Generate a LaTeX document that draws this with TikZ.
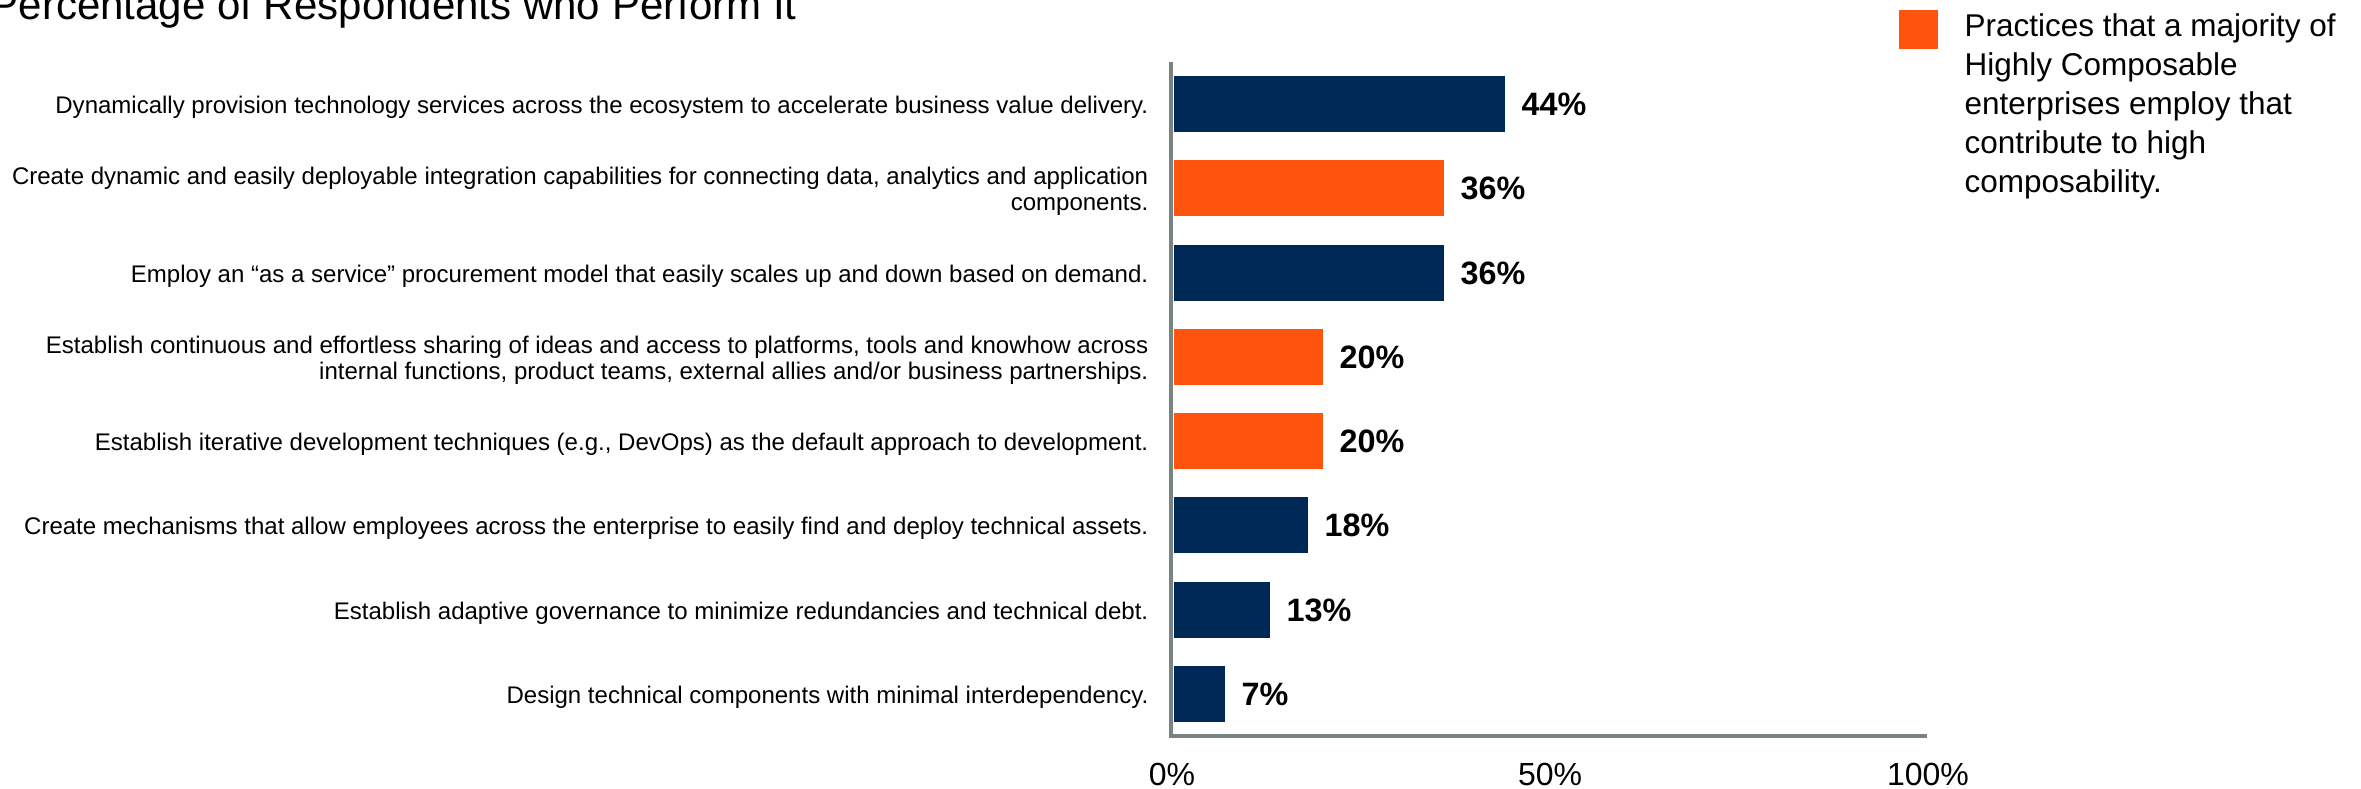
\documentclass[tikz,border=0pt]{standalone}
\usepackage{fontspec}
\setmainfont{Liberation Sans}
\usetikzlibrary{positioning}
\definecolor{navy}{HTML}{002856}
\definecolor{hcorange}{HTML}{FF540D}
\definecolor{axisgray}{HTML}{7A8383}

\begin{document}
\begin{tikzpicture}[x=0.01cm,y=-0.01cm,
    cat/.style={anchor=east,align=right,inner sep=0pt,font=\fontsize{6.83}{7.4}\selectfont},
    val/.style={inner sep=0pt,font=\fontsize{9.2}{10}\selectfont\bfseries},
    tick/.style={anchor=base,inner sep=0pt,font=\fontsize{9.1}{10}\selectfont},
    axisline/.style={draw=axisgray,line width=1.28pt},
    navybar/.style={fill=navy},
    orangebar/.style={fill=hcorange}]
        \useasboundingbox (0,0) rectangle (2361,788);
        \node[anchor=base west,inner sep=0pt,font=\fontsize{11.95}{14}\selectfont] (title) at (-10,20) {Percentage of Respondents who Perform It};

        % bars
        \fill[navybar] (1174,76) rectangle (1505,132);
        \fill[orangebar] (1174,160) rectangle (1444,216);
        \fill[navybar] (1174,245) rectangle (1444,301);
        \fill[orangebar] (1174,329) rectangle (1323,385);
        \fill[orangebar] (1174,413) rectangle (1323,469);
        \fill[navybar] (1174,497) rectangle (1308,553);
        \fill[navybar] (1174,582) rectangle (1270,638);
        \fill[navybar] (1174,666) rectangle (1225,722);

        \coordinate (e1) at (1505,104);
        \coordinate (e2) at (1444,188);
        \coordinate (e3) at (1444,273);
        \coordinate (e4) at (1323,357);
        \coordinate (e5) at (1323,441);
        \coordinate (e6) at (1308,525);
        \coordinate (e7) at (1270,610);
        \coordinate (e8) at (1225,694);
        \node[val,right=0.16cm of e1] (v1) {44\%};
        \node[val,right=0.16cm of e2] (v2) {36\%};
        \node[val,right=0.16cm of e3] (v3) {36\%};
        \node[val,right=0.16cm of e4] (v4) {20\%};
        \node[val,right=0.16cm of e5] (v5) {20\%};
        \node[val,right=0.16cm of e6] (v6) {18\%};
        \node[val,right=0.16cm of e7] (v7) {13\%};
        \node[val,right=0.16cm of e8] (v8) {7\%};

        % labels
        \node[cat] (c1) at (1149,107) {Dynamically provision technology services across the ecosystem to accelerate business value delivery.};
        \node[cat] (c2) at (1149,191) {Create dynamic and easily deployable integration capabilities for connecting data, analytics and application\\components.};
        \node[cat] (c3) at (1149,276) {Employ an “as a service” procurement model that easily scales up and down based on demand.};
        \node[cat] (c4) at (1149,360) {Establish continuous and effortless sharing of ideas and access to platforms, tools and knowhow across\\internal functions, product teams, external allies and/or business partnerships.};
        \node[cat] (c5) at (1149,444) {Establish iterative development techniques (e.g., DevOps) as the default approach to development.};
        \node[cat] (c6) at (1149,528) {Create mechanisms that allow employees across the enterprise to easily find and deploy technical assets.};
        \node[cat] (c7) at (1149,613) {Establish adaptive governance to minimize redundancies and technical debt.};
        \node[cat] (c8) at (1149,697) {Design technical components with minimal interdependency.};

        % axes
        \coordinate (ytop) at (1171,62);
        \coordinate (O) at (1171,736);
        \coordinate (xend) at (1927,736);
        \draw[axisline] (ytop) -- (O) -- (xend);
        \node[tick] (t0) at (1172,785) {0\%};
        \node[tick] (t50) at (1550,785) {50\%};
        \node[tick] (t100) at (1928,785) {100\%};

        % legend
        \fill[orangebar] (1899,10) rectangle (1938,49);
        \node[anchor=north west,align=left,inner sep=0pt,font=\fontsize{8.95}{11.1}\selectfont] (key) at (1964,13) {Practices that a majority of\\Highly Composable\\enterprises employ that\\contribute to high\\composability.};
\end{tikzpicture}
\end{document}
